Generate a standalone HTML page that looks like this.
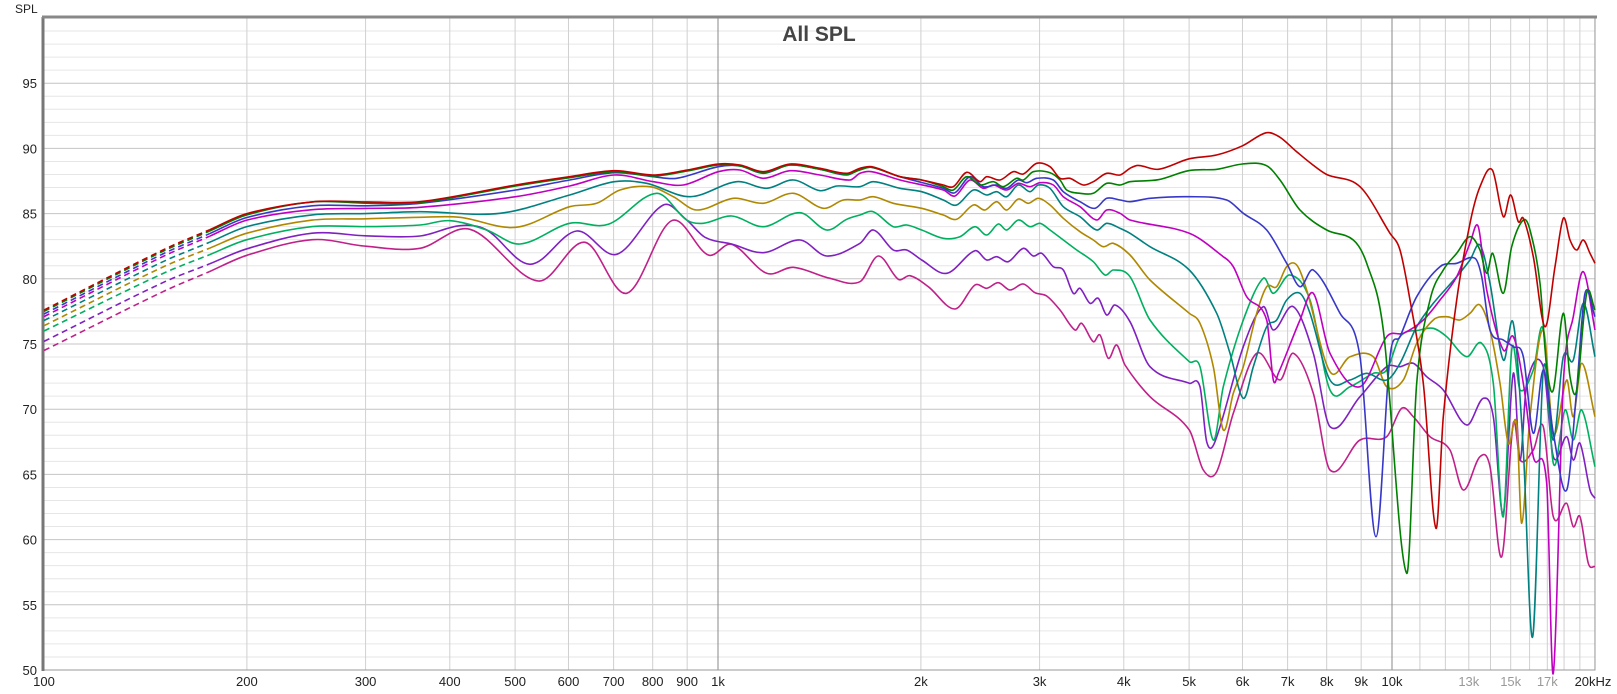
<!DOCTYPE html>
<html><head><meta charset="utf-8"><style>
html,body{margin:0;padding:0;background:#fff;}
svg{display:block;font-family:"Liberation Sans",sans-serif;}
</style></head><body>
<svg id="s" width="1617" height="694" viewBox="0 0 1617 694" xmlns="http://www.w3.org/2000/svg">
<rect width="1617" height="694" fill="#fff"/>
<g id="grid"></g>
<g id="curves"></g>
<text x="819" y="41" font-size="21" font-weight="bold" fill="#444" text-anchor="middle">All SPL</text>
<text x="15" y="13" font-size="12" fill="#222">SPL</text>
<g id="labels" font-size="13" fill="#222"></g>
</svg>
<script>
var NS="http://www.w3.org/2000/svg";
function X(f){return 44+674*Math.log10(f/100);}
function Y(d){return 670-(d-50)*13.04;}
function el(p,tag,a,txt){var e=document.createElementNS(NS,tag);for(var k in a)e.setAttribute(k,a[k]);if(txt)e.textContent=txt;p.appendChild(e);return e;}
var g=document.getElementById('grid'),L=document.getElementById('labels');
for(var d=50;d<=100;d++){el(g,'line',{x1:44,x2:1595,y1:Y(d),y2:Y(d),stroke:d%5==0?'#c4c4c4':'#e6e6e6','stroke-width':1});}
var fs=[];for(var f=100;f<1000;f+=100)fs.push(f);for(f=1000;f<10000;f+=1000)fs.push(f);for(f=10000;f<=20000;f+=1000)fs.push(f);
fs.forEach(function(f){var maj=(f==1000||f==10000);el(g,'line',{x1:X(f),x2:X(f),y1:18,y2:670,stroke:maj?'#8a8a8a':'#d0d0d0','stroke-width':1});});
el(g,'rect',{x:44,y:18,width:1551,height:652,fill:'none',stroke:'#999','stroke-width':1});
el(g,'line',{x1:43,x2:43,y1:17,y2:671,stroke:'#777','stroke-width':3});
el(g,'line',{x1:42,x2:1597,y1:17,y2:17,stroke:'#888','stroke-width':3});
for(d=50;d<=95;d+=5){el(L,'text',{x:37,y:Y(d)+5,'text-anchor':'end'},String(d));}
var xl=[[100,'100'],[200,'200'],[300,'300'],[400,'400'],[500,'500'],[600,'600'],[700,'700'],[800,'800'],[900,'900'],[1000,'1k'],[2000,'2k'],[3000,'3k'],[4000,'4k'],[5000,'5k'],[6000,'6k'],[7000,'7k'],[8000,'8k'],[9000,'9k'],[10000,'10k'],[13000,'13k',1],[15000,'15k',1],[17000,'17k',1]];
xl.forEach(function(a){var t=el(L,'text',{x:X(a[0]),y:686,'text-anchor':'middle'},a[1]);if(a[2])t.setAttribute('fill','#999');});
el(L,'text',{x:1593,y:686,'text-anchor':'middle'},'20kHz');

function FD(a){return a.map(function(p){return [X(p[0]),Y(p[1])];});}
function Z(ox,oy,a,mn,mx){return a.filter(function(p){return (mn===undefined||p[0]>=mn)&&(mx===undefined||p[0]<=mx);}).map(function(p){return [ox+p[0]/3,oy+p[1]/3];});}
function Z4(a){return Z(420,130,a,0,1290);}
function Z4b(a){return Z(420,131,a,0,1290);}
function Z3(a){return Z(860,130,a);}
function Z1(a){return Z(1100,180,a,130,870);}
function Z2(a){return Z(1390,150,a);}
function low(v){return FD([[100,v[0]],[150,v[1]],[200,v[2]],[250,v[3]],[300,v[4]]]);}
var z4r=[[0,215],[287,165],[449,140],[583,122],[700,135],[802,120],[895,102],[960,105],[1030,125],[1110,102],[1200,115],[1280,130],[1350,112]];
var C=[
{c:'#c00000',p:[].concat(low([77.6,82.2,85,85.9,85.9]),Z4(z4r),
 Z3([[0,115],[35,110],[120,140],[185,150],[250,165],[280,170],[320,127],[360,155],[380,140],[420,150],[460,125],[490,132],[530,100],[570,110],[600,145],[630,145],[670,165],[700,155],[740,130],[780,135],[810,115]]),
 FD([[4200,88.7],[4500,88.4],[5000,89.2],[5500,89.5],[6000,90.2],[6500,91.2],[6800,90.9],[7200,89.8],[7600,88.8],[8000,88]]),
 Z1([[780,20],[870,160]]),
 Z2([[30,300],[60,450],[100,700],[138,1135],[160,800],[200,450],[240,220],[270,110],[307,60],[340,200],[362,135],[385,215],[400,205],[430,320],[465,530],[477,560],[495,350],[520,205],[540,270],[560,300],[580,270],[600,310],[615,340]]))},
{c:'#008000',p:[].concat(low([77.5,82.1,84.9,85.9,85.8]),Z4b(z4r),
 Z3([[0,120],[35,112],[120,140],[185,150],[250,170],[280,180],[320,140],[360,165],[400,155],[430,170],[470,145],[490,150],[520,125],[570,128],[600,150],[620,180],[660,190],[700,190],[740,160],[780,165],[810,155]]),
 FD([[4500,87.6],[5000,88.3],[5500,88.4],[6000,88.8],[6500,88.7]]),
 Z1([[540,0],[600,90],[680,150],[760,180],[800,250],[850,450]]),
 Z2([[50,1270],[80,700],[120,450],[160,360],[200,310],[240,260],[270,300],[290,370],[308,310],[340,430],[365,290],[400,210],[420,240],[450,400],[470,650],[490,720],[520,490],[540,680],[560,720],[590,430],[615,480]]))},
{c:'#3838c8',p:[].concat(low([77.3,81.9,84.7,85.6,85.6]),
 Z4([[0,220],[287,180],[449,150],[583,128],[700,140],[770,145],[895,110],[960,108],[1030,130],[1110,105],[1200,118],[1280,135],[1350,115]]),
 Z3([[0,118],[35,112],[120,140],[250,175],[285,188],[330,140],[370,170],[410,165],[440,175],[475,150],[500,158],[530,145],[580,150],[610,185],[660,215],[705,235],[740,205],[780,210],[810,215]]),
 Z1([[150,55],[268,50],[380,60],[430,100],[500,150],[560,250],[600,320],[640,270],[720,400],[780,530],[828,1070],[870,530]]),
 Z2([[30,560],[80,440],[150,350],[200,340],[255,325],[275,380],[300,540],[340,570],[370,590],[400,620],[430,850],[440,1130],[460,660],[490,850],[530,1020],[560,720],[585,430],[615,500]]))},
{c:'#c000c0',p:[].concat(low([77.1,81.7,84.5,85.3,85.4]),
 Z4([[0,232],[287,200],[449,168],[583,135],[700,155],[790,165],[895,125],[960,120],[1030,145],[1110,122],[1200,135],[1290,150],[1350,128]]),
 Z3([[0,130],[35,125],[120,150],[250,180],[285,198],[330,150],[370,175],[400,165],[440,180],[475,160],[510,170],[540,158],[580,165],[610,200],[660,230],[710,270],[740,240],[780,250],[810,270]]),
 Z1([[268,160],[370,230],[400,260],[440,350],[500,420],[520,600],[535,580],[600,420],[640,340],[690,520],[780,620],[860,470]]),
 Z2([[0,545],[40,550],[100,510],[150,450],[200,380],[240,280],[265,230],[290,420],[340,600],[370,560],[400,700],[430,920],[440,1120],[470,1000],[490,1570],[500,1100],[520,700],[550,500],[580,365],[615,540]]))},
{c:'#008080',p:[].concat(low([76.8,81.3,84,84.9,85]),
 Z4([[0,245],[240,250],[449,195],[583,155],[680,160],[810,200],[950,155],[1040,175],[1120,150],[1200,182],[1250,168],[1300,178],[1350,160]]),
 Z3([[0,170],[40,155],[120,175],[185,185],[250,210],[290,225],[340,180],[380,195],[410,185],[440,200],[475,165],[510,185],[535,165],[570,175],[610,230],[660,260],[710,300],[740,280],[780,295],[810,310]]),
 Z1([[150,200],[268,270],[350,400],[390,520],[430,655],[460,560],[500,440],[530,420],[560,360],[600,340],[630,400],[690,600],[750,600],[800,580],[860,600]]),
 Z2([[30,640],[80,530],[130,460],[200,380],[240,330],[270,285],[300,400],[340,630],[370,520],[400,900],[428,1460],[440,900],[460,660],[490,870],[520,620],[550,630],[580,460],[615,620]]))},
{c:'#b08800',p:[].concat(low([76.4,80.9,83.5,84.5,84.6]),
 Z4([[0,262],[120,262],[287,292],[449,230],[530,220],[600,180],[690,170],[760,200],[830,240],[940,205],[1030,220],[1120,190],[1210,235],[1270,210],[1350,198]]),
 Z3([[0,210],[40,200],[100,220],[185,235],[250,255],[290,268],[340,225],[375,240],[410,215],[440,240],[475,207],[505,220],[535,205],[570,225],[610,265],[660,305],[700,330],[730,350],[760,340],[810,375]]),
 Z1([[150,300],[268,400],[300,430],[340,560],[370,750],[400,640],[430,560],[470,400],[500,320],[530,320],[560,260],[590,255],[620,330],[690,575],[750,530],[820,530],[860,620]]),
 Z2([[40,690],[80,580],[130,510],[170,500],[210,510],[240,490],[270,465],[300,540],[330,700],[355,880],[380,820],[395,1120],[420,800],[460,540],[490,850],[530,690],[550,800],[575,640],[615,800]]))},
{c:'#00b060',p:[].concat(low([76,80.4,83,84,84]),
 Z4([[0,285],[90,272],[200,300],[300,342],[449,280],[565,283],[710,190],[800,270],[850,280],[935,258],[1030,290],[1140,248],[1220,300],[1280,268],[1350,245]]),
 Z3([[0,255],[40,245],[100,290],[140,285],[185,300],[250,325],[300,320],[345,290],[380,315],[415,282],[440,300],[475,270],[510,290],[540,280],[570,300],[610,330],[650,360],[700,395],[735,435],[760,420],[810,440]]),
 Z1([[150,420],[268,545],[300,560],[340,780],[370,620],[430,420],[490,295],[520,340],[570,285],[630,360],[690,630],[750,620],[820,580],[860,570]]),
 Z2([[30,560],[90,540],[130,535],[170,560],[230,620],[275,580],[310,700],[340,1100],[365,600],[390,720],[430,660],[460,540],[490,940],[525,780],[550,870],[575,780],[615,950]]))},
{c:'#8020c0',p:[].concat(low([75.2,79.7,82.3,83.5,83.3]),
 Z4([[0,318],[120,287],[200,300],[330,403],[470,303],[590,373],[730,225],[800,270],[855,322],[935,342],[1030,368],[1140,330],[1220,378],[1350,298]]),
 Z3([[0,340],[40,300],[100,360],[140,360],[185,390],[260,430],[345,362],[380,390],[410,380],[445,395],[490,355],[520,378],[545,370],[580,410],[610,420],[640,490],[660,475],[690,520],[715,505],[740,555],[765,525],[810,575]]),
 Z1([[150,560],[268,610],[300,620],[320,785],[345,785],[430,500],[490,380],[520,450],[580,380],[640,520],[690,740],[780,650],[860,560]]),
 Z2([[30,650],[70,640],[110,680],[160,720],[230,825],[280,745],[310,800],[340,1090],[370,670],[390,930],[410,700],[460,650],[490,920],[530,860],[550,930],[570,880],[600,1020],[615,1045]]))},
{c:'#c0208a',p:[].concat(low([74.5,79,81.8,83,82.5]),
 Z4([[0,355],[150,298],[355,453],[495,337],[620,490],[755,272],[865,375],[935,343],[1040,430],[1120,412],[1230,445]]),
 Z3([[0,455],[55,378],[115,448],[150,437],[205,470],[285,537],[345,465],[380,475],[415,458],[450,480],[490,462],[525,488],[560,498],[600,540],[645,600],[665,580],[700,635],[720,615],[745,685],[770,645],[795,705]]),
 Z1([[150,650],[268,750],[310,870],[350,875],[400,700],[470,520],[540,600],[580,520],[640,640],[690,870],[780,780],[860,770]]),
 Z2([[0,870],[35,775],[70,800],[120,860],[180,900],[220,1020],[270,920],[300,950],[335,1220],[370,820],[390,930],[430,900],[460,830],[490,1100],[530,1060],[550,1130],[570,1100],[595,1240],[615,1250]]))}
];
var cg=document.getElementById('curves');
function pathOf(P){
  var n=P.length,m=[];
  for(var i=0;i<n;i++){var a=P[Math.max(0,i-1)],b=P[Math.min(n-1,i+1)];m.push(b[0]==a[0]?0:(b[1]-a[1])/(b[0]-a[0]));}
  var d='M'+P[0][0].toFixed(1)+','+P[0][1].toFixed(1);
  for(i=0;i<n-1;i++){
    var p1=P[i],p2=P[i+1],h=(p2[0]-p1[0])/3;
    d+='C'+(p1[0]+h).toFixed(1)+','+(p1[1]+m[i]*h).toFixed(1)+' '+(p2[0]-h).toFixed(1)+','+(p2[1]-m[i+1]*h).toFixed(1)+' '+p2[0].toFixed(1)+','+p2[1].toFixed(1);
  }return d;}
var xs=X(176);
C.slice().reverse().forEach(function(c){
  var P=c.p.slice().sort(function(a,b){return a[0]-b[0];});
  var Q=[];P.forEach(function(p){if(!Q.length||p[0]-Q[Q.length-1][0]>4)Q.push(p);});
  var i=0;while(Q[i][0]<xs)i++;
  var t=(xs-Q[i-1][0])/(Q[i][0]-Q[i-1][0]);var mm=[xs,Q[i-1][1]+t*(Q[i][1]-Q[i-1][1])];
  var dashed=Q.slice(0,i).concat([mm]);var solid=[mm].concat(Q.slice(i));
  el(cg,'path',{d:pathOf(dashed),fill:'none',stroke:c.c,'stroke-width':1.6,'stroke-dasharray':'6,4'});
  el(cg,'path',{d:pathOf(solid),fill:'none',stroke:c.c,'stroke-width':1.6,'stroke-linejoin':'round'});
});
</script>
</body></html>
